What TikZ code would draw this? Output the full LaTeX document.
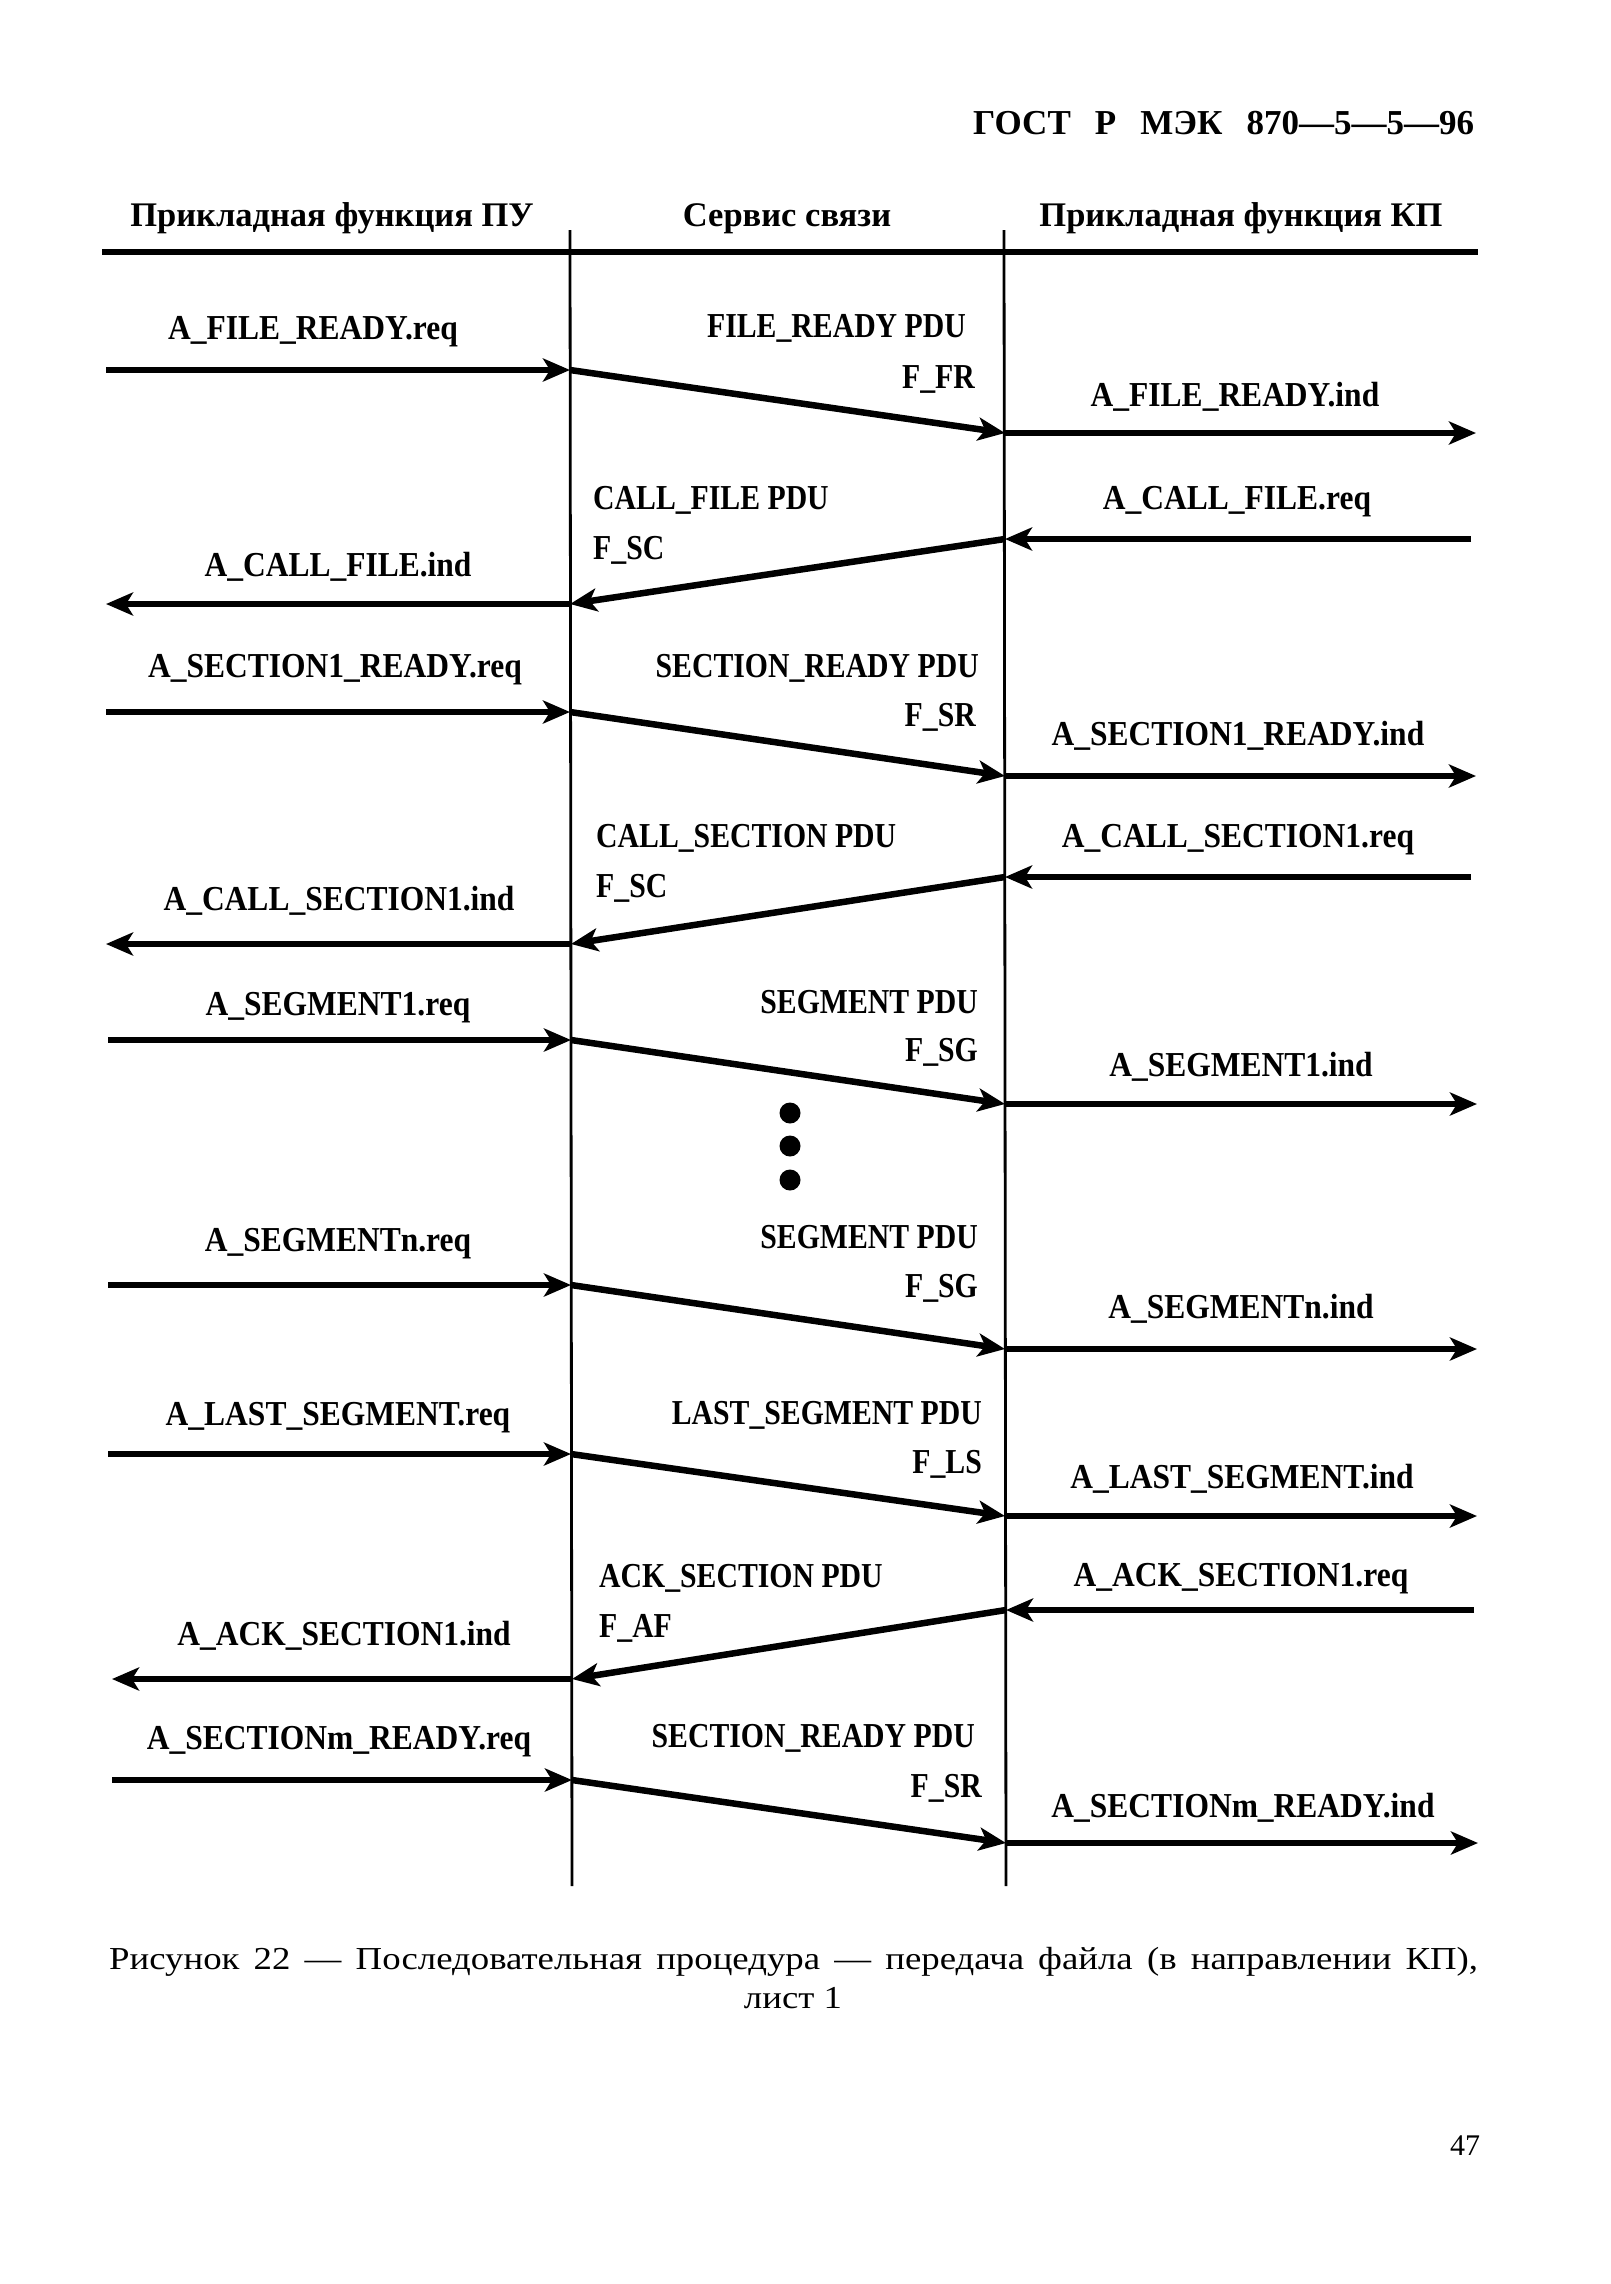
\documentclass[tikz,border=0pt]{standalone}
\usepackage{fontspec}
\setmainfont{Liberation Serif}
\newfontfamily\condfont[FakeStretch=0.9]{Liberation Serif}
\newfontfamily\narrowfont[FakeStretch=0.85]{Liberation Serif}
\newfontfamily\widefont[FakeStretch=1.15]{Liberation Serif}
\usetikzlibrary{arrows.meta}
\begin{document}
\begin{tikzpicture}[x=1pt,y=-1pt,
  lbl/.style={inner sep=0pt, anchor=base, font=\condfont\bfseries\fontsize{35}{40}\selectfont},
  pdu/.style={inner sep=0pt, font=\narrowfont\bfseries\fontsize{35}{40}\selectfont},
  lblL/.style={pdu, anchor=base west},
  lblR/.style={pdu, anchor=base east},
  hdr/.style={inner sep=0pt, anchor=base, font=\bfseries\fontsize{34.5}{40}\selectfont},
  msg/.style={line width=6.5pt, -{Stealth[length=27pt,width=23pt,inset=7pt]}},
  life/.style={line width=2.8pt},
  dotn/.style={circle, fill=black, inner sep=0pt, minimum width=18pt, minimum height=21pt}]
\useasboundingbox (0,0) rectangle (1611,2284);

% page header
\node[inner sep=0pt, anchor=base west, font=\bfseries\fontsize{35}{40}\selectfont] (gost) at (973,134)
  {\makebox[501pt][s]{ГОСТ Р МЭК 870—5—5—96}};

% column headers
\node[hdr] (hL) at (332,226) {Прикладная функция ПУ};
\node[hdr] (hM) at (787,226) {Сервис связи};
\node[hdr] (hR) at (1241,226) {Прикладная функция КП};

% header rule and lifelines
\coordinate (hl1) at (102,252);
\coordinate (hl2) at (1478,252);
\draw[line width=5.5pt] (hl1) -- (hl2);
\coordinate (Ltop) at (570,230);
\coordinate (Lbot) at (572,1886);
\coordinate (Rtop) at (1004,230);
\coordinate (Rbot) at (1006,1886);
\draw[life] (Ltop) -- (Lbot);
\draw[life] (Rtop) -- (Rbot);

% ---- row 1 : FILE_READY
\coordinate (s1) at (106,370);
\coordinate (a1) at (570,370);
\coordinate (b1) at (1005,433);
\coordinate (e1) at (1476,433);
\draw[msg] (s1) -- (a1);
\draw[msg] (a1) -- (b1);
\draw[msg] (b1) -- (e1);
\node[lbl] (r1req) at (313,339) {A\_FILE\_READY.req};
\node[lblR] (r1pdu) at (966,337) {FILE\_READY PDU};
\node[lblR] (r1f) at (975,388) {F\_FR};
\node[lbl] (r1ind) at (1235,406) {A\_FILE\_READY.ind};

% ---- row 2 : CALL_FILE
\coordinate (e2) at (1471,539);
\coordinate (b2) at (1005,539);
\coordinate (a2) at (570,604);
\coordinate (s2) at (106,604);
\draw[msg] (e2) -- (b2);
\draw[msg] (b2) -- (a2);
\draw[msg] (a2) -- (s2);
\node[lbl] (r2req) at (1237,509) {A\_CALL\_FILE.req};
\node[lblL] (r2pdu) at (593,509) {CALL\_FILE PDU};
\node[lblL] (r2f) at (593,559) {F\_SC};
\node[lbl] (r2ind) at (338,576) {A\_CALL\_FILE.ind};

% ---- row 3 : SECTION1_READY
\coordinate (s3) at (106,712);
\coordinate (a3) at (570,712);
\coordinate (b3) at (1005,776);
\coordinate (e3) at (1476,776);
\draw[msg] (s3) -- (a3);
\draw[msg] (a3) -- (b3);
\draw[msg] (b3) -- (e3);
\node[lbl] (r3req) at (335,677) {A\_SECTION1\_READY.req};
\node[lblR] (r3pdu) at (979,677) {SECTION\_READY PDU};
\node[lblR] (r3f) at (976,726) {F\_SR};
\node[lbl] (r3ind) at (1238,745) {A\_SECTION1\_READY.ind};

% ---- row 4 : CALL_SECTION
\coordinate (e4) at (1471,877);
\coordinate (b4) at (1005,877);
\coordinate (a4) at (571,944);
\coordinate (s4) at (106,944);
\draw[msg] (e4) -- (b4);
\draw[msg] (b4) -- (a4);
\draw[msg] (a4) -- (s4);
\node[lbl] (r4req) at (1238,847) {A\_CALL\_SECTION1.req};
\node[lblL] (r4pdu) at (596,847) {CALL\_SECTION PDU};
\node[lblL] (r4f) at (596,897) {F\_SC};
\node[lbl] (r4ind) at (339,910) {A\_CALL\_SECTION1.ind};

% ---- row 5 : SEGMENT1
\coordinate (s5) at (108,1040);
\coordinate (a5) at (571,1040);
\coordinate (b5) at (1005,1104);
\coordinate (e5) at (1477,1104);
\draw[msg] (s5) -- (a5);
\draw[msg] (a5) -- (b5);
\draw[msg] (b5) -- (e5);
\node[lbl] (r5req) at (338,1015) {A\_SEGMENT1.req};
\node[lblR] (r5pdu) at (978,1013) {SEGMENT PDU};
\node[lblR] (r5f) at (978,1061) {F\_SG};
\node[lbl] (r5ind) at (1241,1076) {A\_SEGMENT1.ind};

% dots
\node[dotn] (d1) at (790,1113) {};
\node[dotn] (d2) at (790,1146) {};
\node[dotn] (d3) at (790,1180) {};

% ---- row 6 : SEGMENTn
\coordinate (s6) at (108,1285);
\coordinate (a6) at (571,1285);
\coordinate (b6) at (1005,1349);
\coordinate (e6) at (1477,1349);
\draw[msg] (s6) -- (a6);
\draw[msg] (a6) -- (b6);
\draw[msg] (b6) -- (e6);
\node[lbl] (r6req) at (338,1251) {A\_SEGMENTn.req};
\node[lblR] (r6pdu) at (978,1248) {SEGMENT PDU};
\node[lblR] (r6f) at (978,1297) {F\_SG};
\node[lbl] (r6ind) at (1241,1318) {A\_SEGMENTn.ind};

% ---- row 7 : LAST_SEGMENT
\coordinate (s7) at (108,1454);
\coordinate (a7) at (571,1454);
\coordinate (b7) at (1005,1516);
\coordinate (e7) at (1477,1516);
\draw[msg] (s7) -- (a7);
\draw[msg] (a7) -- (b7);
\draw[msg] (b7) -- (e7);
\node[lbl] (r7req) at (338,1425) {A\_LAST\_SEGMENT.req};
\node[lblR] (r7pdu) at (982,1424) {LAST\_SEGMENT PDU};
\node[lblR] (r7f) at (982,1473) {F\_LS};
\node[lbl] (r7ind) at (1242,1488) {A\_LAST\_SEGMENT.ind};

% ---- row 8 : ACK_SECTION
\coordinate (e8) at (1474,1610);
\coordinate (b8) at (1006,1610);
\coordinate (a8) at (572,1679);
\coordinate (s8) at (112,1679);
\draw[msg] (e8) -- (b8);
\draw[msg] (b8) -- (a8);
\draw[msg] (a8) -- (s8);
\node[lbl] (r8req) at (1241,1586) {A\_ACK\_SECTION1.req};
\node[lblL] (r8pdu) at (599,1587) {ACK\_SECTION PDU};
\node[lblL] (r8f) at (599,1637) {F\_AF};
\node[lbl] (r8ind) at (344,1645) {A\_ACK\_SECTION1.ind};

% ---- row 9 : SECTIONm_READY
\coordinate (s9) at (112,1780);
\coordinate (a9) at (572,1780);
\coordinate (b9) at (1006,1843);
\coordinate (e9) at (1478,1843);
\draw[msg] (s9) -- (a9);
\draw[msg] (a9) -- (b9);
\draw[msg] (b9) -- (e9);
\node[lbl] (r9req) at (339,1749) {A\_SECTIONm\_READY.req};
\node[lblR] (r9pdu) at (975,1747) {SECTION\_READY PDU};
\node[lblR] (r9f) at (982,1797) {F\_SR};
\node[lbl] (r9ind) at (1243,1817) {A\_SECTIONm\_READY.ind};

% caption
\node[inner sep=0pt, anchor=base west, font=\widefont\fontsize{32}{38}\selectfont] (cap1) at (109,1969)
  {\makebox[1369pt][s]{Рисунок 22 — Последовательная процедура — передача файла (в направлении КП),}};
\node[inner sep=0pt, anchor=base, font=\widefont\fontsize{32}{38}\selectfont] (cap2) at (793,2008) {лист 1};

% page number
\node[inner sep=0pt, anchor=base, font=\fontsize{30}{34}\selectfont] (pg) at (1465,2155) {47};
\end{tikzpicture}
\end{document}
